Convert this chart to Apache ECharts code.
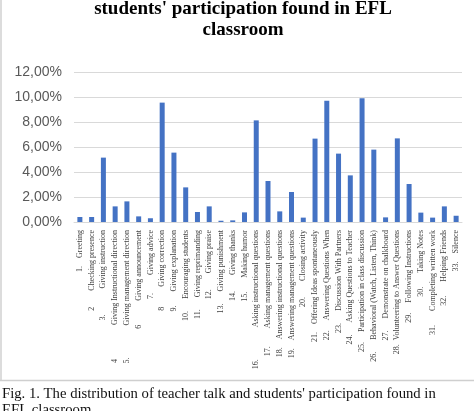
<!DOCTYPE html>
<html>
<head>
<meta charset="utf-8">
<script src="https://cdn.jsdelivr.net/npm/echarts@6/dist/echarts.min.js"></script>
<style>html,body{margin:0;padding:0;background:#fff;}#c{width:474px;height:411px;}</style>
</head>
<body>
<div id="c"></div>
<script>
const titleText = "students' participation found in EFL\nclassroom";
const captionText = "Fig. 1. The distribution of teacher talk and students' participation found in\nEFL classroom";
const categories = [
  "1.    Greeting",
  "2        Checking presence",
  "3.             Giving instruction",
  "4                 Giving Instructional direction",
  "5.                Giving management direction",
  "6            Giving announcement",
  "7.         Giving advice",
  "8          Giving correction",
  "9.       Giving explanation",
  "10.      Encouraging students",
  "11.      Giving reprimanding",
  "12.        Giving praise",
  "13.      Giving punishment",
  "14.        Giving thanks",
  "15.       Making humor",
  "16.                Asking instructional questions",
  "17.         Asking management questions",
  "18.    Answering instructional questions",
  "19.    Answering management questions",
  "20.        Closing activity",
  "21.    Offering Ideas spontaneously",
  "22.     Answering Questions When",
  "23.      Discussion With Partners",
  "24.      Asking Questions to Teacher",
  "25.     Participation in class discussion",
  "26.      Behavioral (Watch, Listen, Think)",
  "27.      Demonstrate on chalkboard",
  "28.  Volunteering to Answer Questions",
  "29.     Following Instructions",
  "30.       Taking Notes",
  "31.       Completing written work",
  "32.       Helping Friends",
  "33.    Silence"
];
const values = [0.40, 0.40, 5.15, 1.25, 1.65, 0.45, 0.30, 9.55, 5.55, 2.77, 0.80, 1.25, 0.10, 0.13, 0.77, 8.13, 3.28,
                0.85, 2.40, 0.35, 6.67, 9.70, 5.47, 3.73, 9.90, 5.79, 0.37, 6.69, 3.04, 0.75, 0.35, 1.25, 0.50];
const yTicks = { min: 0, max: 12, interval: 2 };

const chart = echarts.init(document.getElementById('c'), null, { renderer: 'canvas' });
chart.setOption({
  animation: false,
  backgroundColor: '#ffffff',
  grid: { left: 74, right: 12, top: 72, bottom: 189, containLabel: false },
  xAxis: {
    type: 'category',
    data: categories,
    axisLine: { show: true, lineStyle: { color: '#d9d9d9', width: 1 } },
    axisTick: { show: false },
    axisLabel: {
      interval: 0, rotate: 90, margin: 8,
      fontFamily: 'Liberation Serif', fontSize: 8, color: '#404040'
    }
  },
  yAxis: {
    type: 'value',
    min: yTicks.min, max: yTicks.max, interval: yTicks.interval,
    axisLine: { show: false }, axisTick: { show: false },
    splitLine: { lineStyle: { color: '#d9d9d9', width: 1 } },
    axisLabel: {
      margin: 12, fontFamily: 'Liberation Sans', fontSize: 14, color: '#595959',
      formatter: v => v.toFixed(2).replace('.', ',') + '%'
    }
  },
  series: [{
    type: 'bar', data: values, barWidth: 5,
    itemStyle: { color: '#4472c4' }
  }],
  graphic: [
    { type: 'rect', shape: { x: 0, y: 0, width: 2, height: 380 }, style: { fill: '#dcdcdc' } },
    { type: 'line', shape: { x1: 0, y1: 380.5, x2: 474, y2: 380.5 }, style: { stroke: '#cfcfcf', lineWidth: 1.5 } },
    { type: 'text', x: 243, y: -1, style: {
        text: titleText, fill: '#000', font: 'bold 19px "Liberation Serif"',
        textAlign: 'center', textVerticalAlign: 'top', lineHeight: 21 } },
    { type: 'text', x: 2, y: 386, style: {
        text: captionText, fill: '#111', font: '14.7px "Liberation Serif"',
        textAlign: 'left', textVerticalAlign: 'top', lineHeight: 16 } }
  ]
});
</script>
</body>
</html>
